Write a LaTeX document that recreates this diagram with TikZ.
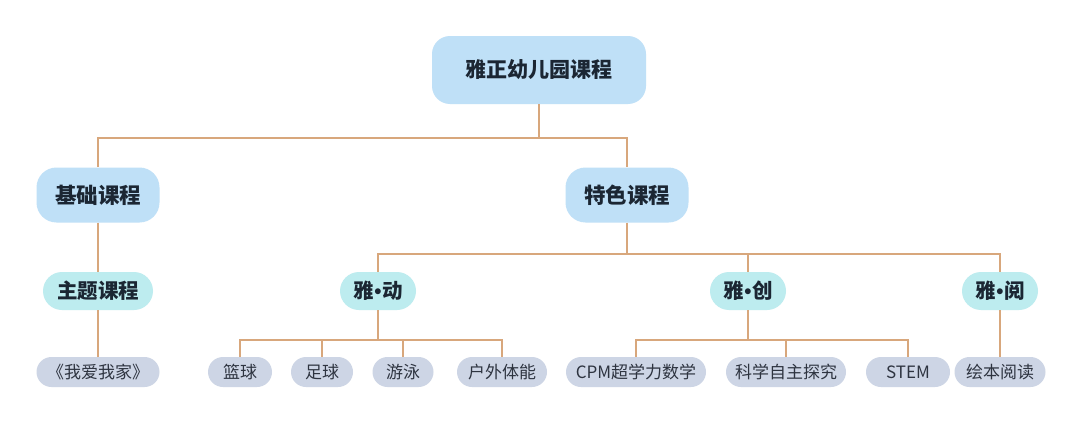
\documentclass[tikz,border=0pt]{standalone}
\usepackage{fontspec}
\setmainfont{Noto Sans CJK SC}
\newfontfamily\dotfont{Liberation Sans}
\newcommand{\ydot}{{\dotfont\bfseries\kern0.5pt•\kern0.5pt}}
\definecolor{lvone}{HTML}{BFE0F7}
\definecolor{lvtwo}{HTML}{BDECEF}
\definecolor{leafc}{HTML}{CDD5E5}
\definecolor{linec}{HTML}{D8A77C}
\definecolor{txtc}{HTML}{1B2633}
\definecolor{leaftxt}{HTML}{2E3440}
\begin{document}
\begin{tikzpicture}[x=1pt,y=-1pt,
  rootbox/.style={fill=lvone, rounded corners=18pt, minimum width=214pt, minimum height=68pt, inner sep=0pt, text=txtc, font=\fontsize{21}{21}\selectfont\bfseries},
  onebox/.style={fill=lvone, rounded corners=20pt, minimum width=123pt, minimum height=55pt, inner sep=0pt, text=txtc, font=\fontsize{21.5}{21.5}\selectfont\bfseries},
  twobox/.style={fill=lvtwo, rounded corners=19pt, minimum height=38pt, inner sep=0pt, text=txtc, font=\fontsize{20.5}{20.5}\selectfont\bfseries},
  leafbox/.style={fill=leafc, rounded corners=15pt, minimum height=30pt, inner sep=0pt, text=leaftxt, font=\fontsize{17}{17}\selectfont},
  conn/.style={draw=linec, line width=2.2pt}]
\useasboundingbox[fill=white] (0,0) rectangle (1080,423);
% nodes
\node[rootbox] (root) at (539,70) {雅正幼儿园课程};
\node[onebox] (base) at (98,195) {基础课程};
\node[onebox] (feat) at (627,195) {特色课程};
\node[twobox, minimum width=110pt] (theme) at (98,291) {主题课程};
\node[twobox, minimum width=76pt] (dong) at (378,291) {雅\ydot 动};
\node[twobox, minimum width=76pt] (chuang) at (748,291) {雅\ydot 创};
\node[twobox, minimum width=76pt] (yue) at (1000,291) {雅\ydot 阅};
\node[leafbox, minimum width=123pt] (home) at (98,372) {《我爱我家》};
\node[leafbox, minimum width=64pt] (lq) at (240,372) {篮球};
\node[leafbox, minimum width=62pt] (zq) at (322,372) {足球};
\node[leafbox, minimum width=61pt] (yy) at (403,372) {游泳};
\node[leafbox, minimum width=90pt] (hw) at (502,372) {户外体能};
\node[leafbox, minimum width=140pt] (cpm) at (636,372) {CPM超学力数学};
\node[leafbox, minimum width=120pt] (kx) at (786,372) {科学自主探究};
\node[leafbox, minimum width=84pt] (stem) at (908,372) {STEM};
\node[leafbox, minimum width=91pt] (hb) at (1000,372) {绘本阅读};
% junctions
\coordinate (j0) at (539,138);
\coordinate (j1) at (627,254);
\coordinate (j2) at (378,340);
\coordinate (j3) at (748,340);
% connectors
\draw[conn] (root.south) -- (j0);
\draw[conn] (j0) -| (base.north);
\draw[conn] (j0) -| (feat.north);
\draw[conn] (base.south) -- (theme.north);
\draw[conn] (theme.south) -- (home.north);
\draw[conn] (feat.south) -- (j1);
\draw[conn] (j1) -| (dong.north);
\draw[conn] (j1) -| (chuang.north);
\draw[conn] (j1) -| (yue.north);
\draw[conn] (dong.south) -- (j2);
\draw[conn] (j2) -| (lq.north);
\draw[conn] (j2) -| (zq.north);
\draw[conn] (j2) -| (yy.north);
\draw[conn] (j2) -| (hw.north);
\draw[conn] (chuang.south) -- (j3);
\draw[conn] (j3) -| (cpm.north);
\draw[conn] (j3) -| (kx.north);
\draw[conn] (j3) -| (stem.north);
\draw[conn] (yue.south) -- (hb.north);
\end{tikzpicture}
\end{document}
